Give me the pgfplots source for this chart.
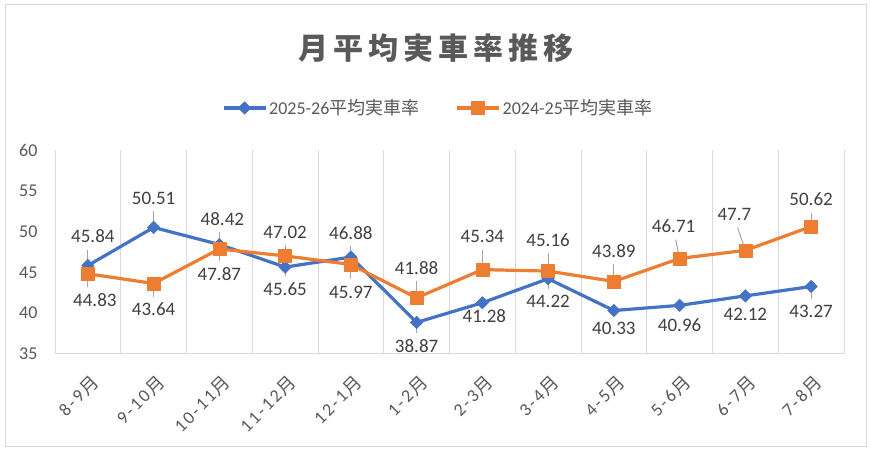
\documentclass[border=0pt]{standalone}
\usepackage{fontspec}
\setmainfont{Carlito}
\newfontfamily\cjk{Noto Sans CJK JP}
\newfontfamily\xlat[LetterSpace=12]{Carlito}
\newfontfamily\xcjk[LetterSpace=12]{Noto Sans CJK JP}
\usepackage{pgfplots}
\usepackage{pgfplotstable}
\pgfplotsset{compat=1.18}
\definecolor{cblue}{HTML}{4472C4}
\definecolor{corange}{HTML}{ED7D31}
\definecolor{tgray}{HTML}{595959}
\definecolor{lgray}{HTML}{404040}
\definecolor{ggray}{HTML}{D9D9D9}
\definecolor{leadgray}{HTML}{A6A6A6}
\newcommand\M{\kern2pt{\xcjk 月}}
\newcommand\X[1]{{\xlat #1}\M}
\pgfplotstableread{
x y dy dx u v
0 45.84 29 5 0 1.96
1 50.51 29 0 0 1.96
2 48.42 25 3 0 1.47
3 45.65 -22 0 0 -1.10
4 46.88 24 0 0 1.35
5 38.87 -24 0 0 -1.35
6 41.28 -13 2 0 0
7 44.22 -23 0 0 -1.23
8 40.33 -18 0 0 0
9 40.96 -20 0 0 0
10 42.12 -19 0 0 0
11 43.27 -25 0 0 -1.47
}\tblblue
\pgfplotstableread{
x y dy dx u v
0 44.83 -26 7 0 -1.6
1 43.64 -26 0 0 -1.6
2 47.87 -25 0 0 -1.47
3 47.02 24 0 0 1.35
4 45.97 -28 0 0 -1.84
5 41.88 30 0 0 2.08
6 45.34 33 0 0 2.45
7 45.16 31 0 0 2.2
8 43.89 30 0 0 2.08
9 46.71 32 -6 -0.06 2.3
10 47.7 36 -11 -0.12 2.8
11 50.62 27 0 0 1.7
}\tblorange
\begin{document}
\begin{tikzpicture}[x=1pt,y=1pt]
\path[use as bounding box] (0,0) rectangle (871,452);
\fill[white] (0,0) rectangle (871,452);
\draw[ggray, line width=1pt] (5,5) rectangle (866,447);
\node[text=tgray, font=\cjk\bfseries\fontsize{30}{32}\selectfont] at (436,404)
 {月\kern5pt平\kern5pt均\kern5pt実\kern5pt車\kern5pt率\kern5pt推\kern5pt移};
\begin{axis}[
  at={(55pt,98pt)}, anchor=south west, scale only axis,
  width=789pt, height=204pt,
  xmin=-0.5, xmax=11.5, ymin=35, ymax=60,
  ytick={35,40,...,60},
  xtick={0,...,11},
  xticklabels={\X{8-9},\X{9-10},\X{10-11},\X{11-12},\X{12-1},\X{1-2},\X{2-3},\X{3-4},\X{4-5},\X{5-6},\X{6-7},\X{7-8}},
  minor xtick={-0.5,0.5,...,11.5},
  xminorgrids,
  minor grid style={draw=ggray, line width=1pt},
  axis lines*=left,
  x axis line style={draw=ggray, line width=1pt, -},
  y axis line style={draw=none},
  tick style={draw=none},
  /pgf/number format/assume math mode=true,
  ticklabel style={font=\fontsize{18}{20}\selectfont, text=tgray},
  yticklabel style={xshift=-14pt},
  xticklabel style={rotate=45, anchor=north east, xshift=-12pt, yshift=-15pt, inner sep=0pt},
  legend style={at={(0.486,1.206)}, anchor=center, draw=none, fill=none,
    legend columns=2, font=\fontsize{18}{20}\selectfont, text=tgray,
    /tikz/every even column/.append style={column sep=34pt},
    /tikz/every odd column/.append style={column sep=0pt}},
  legend image code/.code={\draw[mark repeat=2,mark phase=2,#1] plot coordinates {(0pt,0pt) (21pt,0pt) (42pt,0pt)};},
  clip=false,
]
\addplot[cblue, line width=3.2pt, line join=round, mark=square*, mark size=4.4pt,
  mark options={solid, line width=0.5pt, rotate=45},
  point meta=explicit symbolic,
  visualization depends on={\thisrow{dy} \as \dy},
  visualization depends on={\thisrow{dx} \as \dx},
  nodes near coords,
  nodes near coords style={anchor=center, yshift=\dy pt, xshift=\dx pt, text=lgray, font=\fontsize{19}{21}\selectfont},
] table[x=x, y=y, meta=y] {\tblblue};
\addlegendentry{2025-26{\cjk 平均実車率}}
\addplot[corange, line width=3.2pt, line join=round, mark=square*, mark size=6.5pt,
  mark options={solid, line width=0.5pt},
  point meta=explicit symbolic,
  visualization depends on={\thisrow{dy} \as \dy},
  visualization depends on={\thisrow{dx} \as \dx},
  nodes near coords,
  nodes near coords style={anchor=center, yshift=\dy pt, xshift=\dx pt, text=lgray, font=\fontsize{19}{21}\selectfont},
] table[x=x, y=y, meta=y] {\tblorange};
\addlegendentry{2024-25{\cjk 平均実車率}}
\addplot[forget plot, leadgray, line width=1pt, quiver={u=\thisrow{u}, v=\thisrow{v}}] table[x=x, y=y] {\tblblue};
\addplot[forget plot, leadgray, line width=1pt, quiver={u=\thisrow{u}, v=\thisrow{v}}] table[x=x, y=y] {\tblorange};
\end{axis}
\end{tikzpicture}
\end{document}
